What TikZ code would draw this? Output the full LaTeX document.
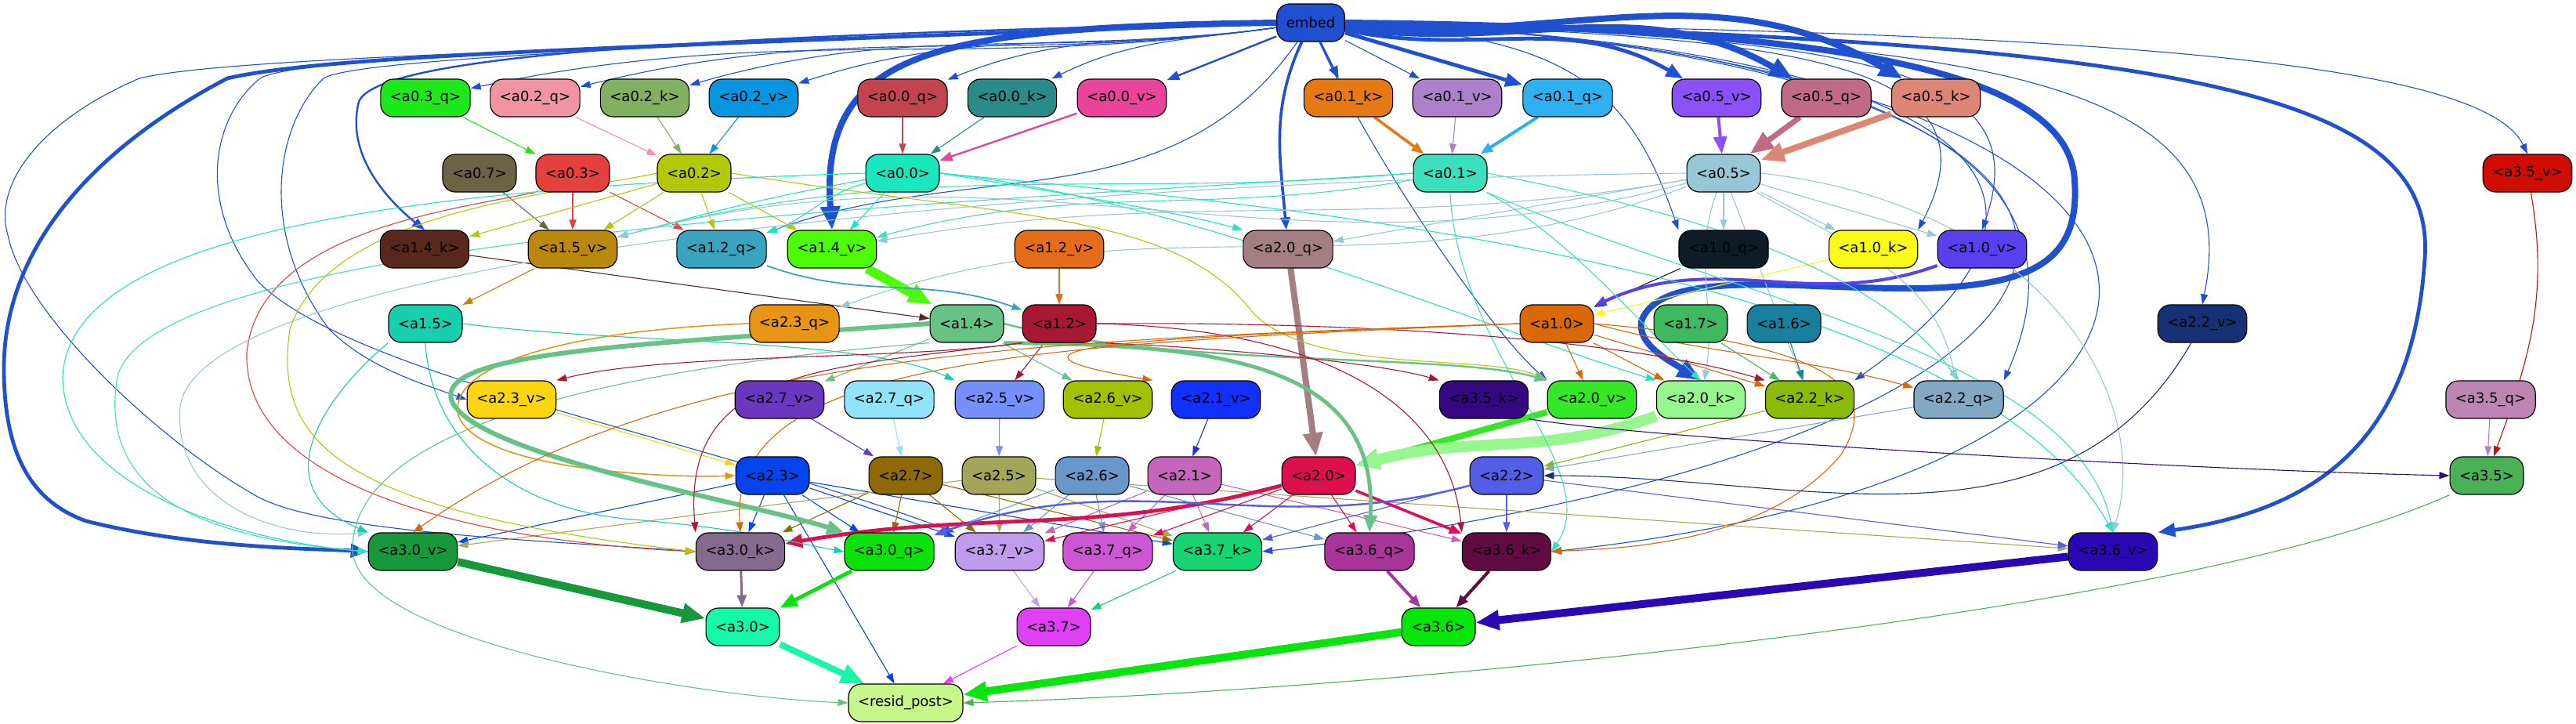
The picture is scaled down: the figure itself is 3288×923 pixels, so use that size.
\documentclass[tikz,border=0pt]{standalone}
\usepackage{fontspec}
\setmainfont{DejaVu Sans}
\usepackage{tikz}
\usetikzlibrary{arrows.meta}
\pgfdeclarelayer{bg}
\pgfsetlayers{bg,main}
% node colours
\definecolor{cembed}{HTML}{1E50D0}
\definecolor{ca03q}{HTML}{1FE81A}
\definecolor{ca02q}{HTML}{EF94A0}
\definecolor{ca02k}{HTML}{80B060}
\definecolor{ca02v}{HTML}{0895DF}
\definecolor{ca00q}{HTML}{C2444F}
\definecolor{ca00k}{HTML}{2A8B88}
\definecolor{ca00v}{HTML}{E9439B}
\definecolor{ca01k}{HTML}{E57A14}
\definecolor{ca01v}{HTML}{AE80CC}
\definecolor{ca01q}{HTML}{2FB0F0}
\definecolor{ca05v}{HTML}{8C50F8}
\definecolor{ca05q}{HTML}{C16A87}
\definecolor{ca05k}{HTML}{DE8675}
\definecolor{ca07}{HTML}{6C6244}
\definecolor{ca03}{HTML}{E4403E}
\definecolor{ca02}{HTML}{B3C705}
\definecolor{ca00}{HTML}{19E8BE}
\definecolor{ca01}{HTML}{3ADFBE}
\definecolor{ca05}{HTML}{96C7D6}
\definecolor{ca35v}{HTML}{CE0C01}
\definecolor{ca14k}{HTML}{58281D}
\definecolor{ca15v}{HTML}{BA880D}
\definecolor{ca12q}{HTML}{3AA4C0}
\definecolor{ca14v}{HTML}{4CFB04}
\definecolor{ca12v}{HTML}{E56D19}
\definecolor{ca20q}{HTML}{A57E84}
\definecolor{ca10q}{HTML}{0D1C26}
\definecolor{ca10k}{HTML}{FAFA17}
\definecolor{ca10v}{HTML}{5A3FEE}
\definecolor{ca15}{HTML}{16CFAC}
\definecolor{ca23q}{HTML}{E89515}
\definecolor{ca14}{HTML}{66C285}
\definecolor{ca12}{HTML}{A81834}
\definecolor{ca10}{HTML}{D96805}
\definecolor{ca17}{HTML}{3EB960}
\definecolor{ca16}{HTML}{187F9E}
\definecolor{ca22v}{HTML}{173274}
\definecolor{ca23v}{HTML}{FBD50F}
\definecolor{ca27v}{HTML}{6A37BE}
\definecolor{ca27q}{HTML}{90E3F9}
\definecolor{ca25v}{HTML}{7690FA}
\definecolor{ca26v}{HTML}{A2C103}
\definecolor{ca21v}{HTML}{1130FA}
\definecolor{ca35k}{HTML}{330880}
\definecolor{ca20v}{HTML}{35E725}
\definecolor{ca20k}{HTML}{98F68F}
\definecolor{ca22k}{HTML}{8ABB08}
\definecolor{ca22q}{HTML}{82A8C3}
\definecolor{ca35q}{HTML}{BE84B4}
\definecolor{ca23}{HTML}{0444EC}
\definecolor{ca27}{HTML}{8E6905}
\definecolor{ca25}{HTML}{A5A55A}
\definecolor{ca26}{HTML}{6898CA}
\definecolor{ca21}{HTML}{C566BD}
\definecolor{ca20}{HTML}{DC0F4F}
\definecolor{ca22}{HTML}{535EE6}
\definecolor{ca35}{HTML}{4AB157}
\definecolor{ca30v}{HTML}{17983B}
\definecolor{ca30k}{HTML}{846B8E}
\definecolor{ca30q}{HTML}{0BE10B}
\definecolor{ca37v}{HTML}{C09BEE}
\definecolor{ca37q}{HTML}{CC57D2}
\definecolor{ca37k}{HTML}{16D472}
\definecolor{ca36q}{HTML}{A83698}
\definecolor{ca36k}{HTML}{610B42}
\definecolor{ca36v}{HTML}{2A09B4}
\definecolor{ca30}{HTML}{15F8A8}
\definecolor{ca37}{HTML}{E040F5}
\definecolor{ca36}{HTML}{06E60A}
\definecolor{cresid}{HTML}{C5F78A}

\begin{document}
\begin{tikzpicture}[x=0.5pt,y=-0.5pt,font=\fontsize{9}{11}\selectfont,
  nd/.style={draw=black,line width=0.6pt,rounded corners=8pt,minimum height=24pt,inner xsep=6pt,inner ysep=1pt},
  ed/.style={-{Triangle[length=6.5pt,width=4.5pt]},line width=0.55pt},
  edm/.style={-{Triangle[length=8pt,width=6pt]},line width=1.2pt},
  edt/.style={-{Triangle[length=11pt,width=8.5pt]},line width=2.4pt},
  edx/.style={-{Triangle[length=15pt,width=12pt]},line width=4pt}]
  \useasboundingbox (0,0) rectangle (3288,923);

  % rank 0 and 1
  \node[nd,fill=cembed] (embed) at (1673,29) {embed};
  \node[nd,fill=ca03q] (a03q) at (543,125) {<a0.3\_q>};
  \node[nd,fill=ca02q] (a02q) at (683,125) {<a0.2\_q>};
  \node[nd,fill=ca02k] (a02k) at (823,125) {<a0.2\_k>};
  \node[nd,fill=ca02v] (a02v) at (962,125) {<a0.2\_v>};
  \node[nd,fill=ca00q] (a00q) at (1152,125) {<a0.0\_q>};
  \node[nd,fill=ca00k] (a00k) at (1292,125) {<a0.0\_k>};
  \node[nd,fill=ca00v] (a00v) at (1432,125) {<a0.0\_v>};
  \node[nd,fill=ca01k] (a01k) at (1721,125) {<a0.1\_k>};
  \node[nd,fill=ca01v] (a01v) at (1860,125) {<a0.1\_v>};
  \node[nd,fill=ca01q] (a01q) at (2001,125) {<a0.1\_q>};
  \node[nd,fill=ca05v] (a05v) at (2191,125) {<a0.5\_v>};
  \node[nd,fill=ca05q] (a05q) at (2331,125) {<a0.5\_q>};
  \node[nd,fill=ca05k] (a05k) at (2471,125) {<a0.5\_k>};
  % rank 2
  \node[nd,fill=ca07] (a07) at (612,221) {<a0.7>};
  \node[nd,fill=ca03] (a03) at (731,221) {<a0.3>};
  \node[nd,fill=ca02] (a02) at (886,221) {<a0.2>};
  \node[nd,fill=ca00] (a00) at (1152,221) {<a0.0>};
  \node[nd,fill=ca01] (a01) at (1851,221) {<a0.1>};
  \node[nd,fill=ca05] (a05) at (2200,221) {<a0.5>};
  \node[nd,fill=ca35v] (a35v) at (3226,221) {<a3.5\_v>};
  % rank 3
  \node[nd,fill=ca14k] (a14k) at (542,318) {<a1.4\_k>};
  \node[nd,fill=ca15v] (a15v) at (731,318) {<a1.5\_v>};
  \node[nd,fill=ca12q] (a12q) at (921,318) {<a1.2\_q>};
  \node[nd,fill=ca14v] (a14v) at (1062,318) {<a1.4\_v>};
  \node[nd,fill=ca12v] (a12v) at (1352,318) {<a1.2\_v>};
  \node[nd,fill=ca20q] (a20q) at (1644,318) {<a2.0\_q>};
  \node[nd,fill=ca10q] (a10q) at (2200,318) {<a1.0\_q>};
  \node[nd,fill=ca10k] (a10k) at (2391,318) {<a1.0\_k>};
  \node[nd,fill=ca10v] (a10v) at (2530,318) {<a1.0\_v>};
  % rank 4
  \node[nd,fill=ca15] (a15) at (543,413) {<a1.5>};
  \node[nd,fill=ca23q] (a23q) at (1014,413) {<a2.3\_q>};
  \node[nd,fill=ca14] (a14) at (1234,413) {<a1.4>};
  \node[nd,fill=ca12] (a12) at (1352,413) {<a1.2>};
  \node[nd,fill=ca10] (a10) at (1987,413) {<a1.0>};
  \node[nd,fill=ca17] (a17) at (2158,413) {<a1.7>};
  \node[nd,fill=ca16] (a16) at (2277,413) {<a1.6>};
  \node[nd,fill=ca22v] (a22v) at (2811,413) {<a2.2\_v>};
  % rank 5
  \node[nd,fill=ca23v] (a23v) at (653,510) {<a2.3\_v>};
  \node[nd,fill=ca27v] (a27v) at (995,510) {<a2.7\_v>};
  \node[nd,fill=ca27q] (a27q) at (1135,510) {<a2.7\_q>};
  \node[nd,fill=ca25v] (a25v) at (1276,510) {<a2.5\_v>};
  \node[nd,fill=ca26v] (a26v) at (1414,510) {<a2.6\_v>};
  \node[nd,fill=ca21v] (a21v) at (1552,510) {<a2.1\_v>};
  \node[nd,fill=ca35k] (a35k) at (1894,510) {<a3.5\_k>};
  \node[nd,fill=ca20v] (a20v) at (2032,510) {<a2.0\_v>};
  \node[nd,fill=ca20k] (a20k) at (2171,510) {<a2.0\_k>};
  \node[nd,fill=ca22k] (a22k) at (2310,510) {<a2.2\_k>};
  \node[nd,fill=ca22q] (a22q) at (2500,510) {<a2.2\_q>};
  \node[nd,fill=ca35q] (a35q) at (3179,510) {<a3.5\_q>};
  % rank 6
  \node[nd,fill=ca23] (a23) at (986,607) {<a2.3>};
  \node[nd,fill=ca27] (a27) at (1156,607) {<a2.7>};
  \node[nd,fill=ca25] (a25) at (1275,607) {<a2.5>};
  \node[nd,fill=ca26] (a26) at (1394,607) {<a2.6>};
  \node[nd,fill=ca21] (a21) at (1512,607) {<a2.1>};
  \node[nd,fill=ca20] (a20) at (1683,607) {<a2.0>};
  \node[nd,fill=ca22] (a22) at (1923,607) {<a2.2>};
  \node[nd,fill=ca35] (a35) at (3174,607) {<a3.5>};
  % rank 7
  \node[nd,fill=ca30v] (a30v) at (527,704) {<a3.0\_v>};
  \node[nd,fill=ca30k] (a30k) at (945,704) {<a3.0\_k>};
  \node[nd,fill=ca30q] (a30q) at (1135,704) {<a3.0\_q>};
  \node[nd,fill=ca37v] (a37v) at (1276,704) {<a3.7\_v>};
  \node[nd,fill=ca37q] (a37q) at (1414,704) {<a3.7\_q>};
  \node[nd,fill=ca37k] (a37k) at (1554,704) {<a3.7\_k>};
  \node[nd,fill=ca36q] (a36q) at (1748,704) {<a3.6\_q>};
  \node[nd,fill=ca36k] (a36k) at (1923,704) {<a3.6\_k>};
  \node[nd,fill=ca36v] (a36v) at (2697,704) {<a3.6\_v>};
  % rank 8 and 9
  \node[nd,fill=ca30] (a30) at (948,800) {<a3.0>};
  \node[nd,fill=ca37] (a37) at (1345,800) {<a3.7>};
  \node[nd,fill=ca36] (a36) at (1836,800) {<a3.6>};
  \node[nd,fill=cresid] (resid) at (1156,897) {<resid\_post>};

  \begin{pgfonlayer}{bg}
  % embed
  \foreach \t/\i in {a03q/12,a02q/14,a02k/16,a02v/18,a00q/22,a00k/26}
    \draw[ed,cembed] (embed) to[out=188,in=\i] (\t);
  \draw[edm,cembed] (embed) -- (a00v);
  \draw[edm,cembed] (embed) -- (a01k);
  \draw[ed,cembed] (embed) -- (a01v);
  \draw[edt,cembed] (embed) -- (a01q);
  \draw[edt,cembed] (embed) to[out=-12,in=150] (a05v);
  \draw[edx,cembed] (embed) to[out=-8,in=150] (a05q);
  \draw[edx,cembed] (embed) to[out=-5,in=150] (a05k);
  \draw[edm,cembed] (embed.west) .. controls (900,45) and (480,70) .. (458,130)
    .. controls (440,200) and (500,260) .. (a14k.north);
  \draw[edx,cembed] (embed.west) .. controls (1200,35) and (1045,60) .. (a14v.north);
  \draw[edm,cembed,line width=1.8pt] (embed) to[out=245,in=95] (a20q);
  \draw[ed,cembed] (embed) to[out=235,in=20] (a12q);
  \draw[edx,cembed] (embed.east) .. controls (2300,35) and (2640,80) .. (2648,230)
    .. controls (2655,330) and (2600,365) .. (2450,368) .. controls (2300,370) and (2120,340) .. (2095,410)
    .. controls (2090,440) and (2130,460) .. (a20k.north);
  \draw[ed,cembed] (embed) .. controls (2000,45) and (2080,110) .. (a10q.north west);
  \draw[ed,cembed] (embed) .. controls (2300,45) and (2560,80) .. (a10k.north east);
  \draw[ed,cembed] (embed) .. controls (2400,45) and (2600,90) .. (a10v.north);
  \draw[ed,cembed] (embed) .. controls (2550,50) and (2870,100) .. (a22v.north);
  \draw[ed,cembed] (embed) .. controls (2700,40) and (3170,80) .. (a35v.north);
  \draw[edt,cembed] (embed.east) .. controls (2800,50) and (3110,120) .. (3095,330)
    .. controls (3080,560) and (2960,650) .. (a36v.north east);
  \draw[ed,cembed] (embed.east) .. controls (2550,60) and (2700,250) .. (a22k.north east);
  \draw[ed,cembed] (embed.east) .. controls (2600,60) and (2640,300) .. (a22q.north east);
  \draw[ed,cembed] (embed.east) .. controls (2950,70) and (2950,600) .. (a36k.east);
  \draw[ed,cembed] (embed.east) .. controls (2900,70) and (2850,560) .. (a37k.east);
  \draw[ed,cembed] (embed) .. controls (1750,200) and (1900,420) .. (a20v.north west);
  \draw[edt,cembed] (embed.west) .. controls (800,60) and (420,70) .. (290,100)
    .. controls (100,200) and (5,330) .. (5,470) .. controls (5,580) and (40,640) .. (110,665)
    .. controls (250,700) and (400,700) .. (a30v.west);
  \draw[ed,cembed] (embed.west) .. controls (900,60) and (300,70) .. (178,100)
    .. controls (60,150) and (-10,230) .. (10,300) .. controls (30,400) and (200,560) .. (322,630)
    .. controls (400,680) and (700,690) .. (a30k.west);
  \draw[ed,cembed] (embed.west) .. controls (900,55) and (380,70) .. (332,100)
    .. controls (270,150) and (250,260) .. (330,360) .. controls (450,480) and (900,560) .. (a37v.north west);
  \draw[ed,cembed] (embed.west) .. controls (900,55) and (450,75) .. (413,100)
    .. controls (350,160) and (330,300) .. (420,420) .. controls (470,470) and (540,490) .. (a23v.west);

  % straight thin edges
  \foreach \s/\t in {a03q/a03,a02q/a02,a02k/a02,a02v/a02,a00q/a00,a00k/a00,a01v/a01,a35q/a35,
      a07/a15v,a03/a15v,a03/a12q,a02/a15v,a02/a12q,a02/a14v,a02/a14k,a00/a14v,
      a05/a10q,a05/a10k,a05/a10v,a05/a20q,a05/a22k,a14k/a14,a15v/a15,a12v/a12,a10q/a10,a10k/a10,
      a12/a25v,a14/a27v,a14/a26v,a17/a22k,a16/a22k,a10/a20v,a10/a20k,a10/a22k,
      a23v/a23,a27v/a27,a27q/a27,a25v/a25,a26v/a26,a21v/a21,a22k/a22,a22q/a22,
      a23/a30v,a23/a30k,a23/a30q,a23/a37v,a23/a37k,a23/resid,
      a27/a30k,a27/a30q,a27/a37v,a27/a37k,
      a25/a30v,a25/a37v,a25/a37k,a25/a36v,
      a26/a37v,a26/a37q,a26/a36q,a26/a30q,
      a21/a37v,a21/a37q,a21/a37k,a21/a36k,
      a20/a37v,a20/a37q,a20/a37k,a20/a36q,
      a22/a37k,a22/a36k,a22/a36v,
      a37v/a37,a37q/a37,a37k/a37,a37/resid}
    \draw[ed,c\s] (\s) -- (\t);

  % thicker edges
  \draw[edm,ca00v] (a00v) -- (a00);
  \draw[edm,ca01k,line width=1.8pt] (a01k) -- (a01);
  \draw[edm,ca01q,line width=2pt] (a01q) -- (a01);
  \draw[edt,ca05v,line width=2pt] (a05v) -- (a05);
  \draw[edx,ca05q,line width=3.5pt] (a05q) -- (a05);
  \draw[edx,ca05k] (a05k) -- (a05);
  \draw[edx,ca14v,line width=6pt] (a14v) -- (a14);
  \draw[edx,ca20q] (a20q) -- (a20);
  \draw[edm,ca10v,line width=2pt] (a10v) to[out=200,in=25] (a10);
  \draw[edx,ca20v] (a20v) -- (a20);
  \draw[edx,ca20k,line width=7pt] (a20k) to[out=200,in=15] (a20);
  \draw[edt,ca20] (a20) to[out=195,in=10] (a30k);
  \draw[edm,ca20,line width=1.8pt] (a20) -- (a36k);
  \draw[edm,ca22] (a22) to[out=195,in=20] (a30q);
  \draw[edx,ca30v,line width=5pt] (a30v) -- (a30);
  \draw[edm,ca30k,line width=1.5pt] (a30k) -- (a30);
  \draw[edt,ca30q] (a30q) -- (a30);
  \draw[edm,ca36q,line width=2pt] (a36q) -- (a36);
  \draw[edm,ca36k,line width=2pt] (a36k) -- (a36);
  \draw[edx,ca36v,line width=5pt] (a36v) -- (a36);
  \draw[edx,ca30,line width=4pt] (a30) -- (resid);
  \draw[edx,ca36,line width=5pt] (a36) -- (resid);

  % curved thin edges
  \draw[ed,ca03] (a03.south west) .. controls (560,270) and (330,300) .. (315,450)
    .. controls (310,620) and (600,690) .. (a30k.west);
  \draw[ed,ca02] (a02.west) .. controls (700,250) and (420,270) .. (370,420)
    .. controls (350,560) and (420,650) .. (a30k.west);
  \draw[ed,ca02] (a02.east) .. controls (1300,280) and (1500,270) .. (1600,400)
    .. controls (1680,480) and (1900,450) .. (a20v.north west);
  \draw[ed,ca00] (a00) to[out=190,in=15] (a15v);
  \draw[ed,ca00] (a00) to[out=195,in=20] (a12q);
  \draw[ed,ca00] (a00.east) .. controls (1350,245) and (1500,270) .. (a20q.north west);
  \draw[ed,ca00] (a00.west) .. controls (500,240) and (90,300) .. (80,480)
    .. controls (80,620) and (300,690) .. (a30v.west);
  \draw[ed,ca00] (a00.east) .. controls (1600,260) and (2500,330) .. (a36v.north);
  \draw[ed,ca00] (a00.east) .. controls (1500,250) and (1900,420) .. (a20k.north west);
  \draw[ed,ca01] (a01.west) to[out=185,in=15] (a15v);
  \draw[ed,ca01] (a01) to[out=190,in=15] (a14v);
  \draw[ed,ca01] (a01) .. controls (2000,300) and (2100,420) .. (a20k.north);
  \draw[ed,ca01] (a01.east) .. controls (2200,280) and (2400,350) .. (a22q.north);
  \draw[ed,ca01] (a01.south east) .. controls (2200,380) and (2650,450) .. (a36v.north);
  \draw[ed,ca01] (a01.west) .. controls (1200,260) and (200,300) .. (150,480)
    .. controls (120,650) and (300,690) .. (a30v.west);
  \draw[ed,ca01] (a01.south) .. controls (1860,450) and (2050,600) .. (a36k.east);
  \draw[ed,ca05] (a05) to[out=190,in=10] (a14v);
  \draw[ed,ca05] (a05) to[out=200,in=20] (a23q);
  \draw[ed,ca05] (a05) to[out=195,in=15] (a15v);
  \draw[ed,ca05] (a05) to[out=-30,in=100] (a22q);
  \draw[ed,ca05] (a05.east) .. controls (2600,260) and (2750,500) .. (a36v.north);
  \draw[ed,ca05] (a05.west) .. controls (1300,230) and (250,330) .. (230,520)
    .. controls (220,640) and (350,690) .. (a30v.north west);
  \draw[ed,ca05] (a05) to[out=250,in=80] (a20k);
  \draw[ed,ca12q,line width=0.9pt] (a12q) to[out=-20,in=160] (a12);
  \draw[ed,ca12v] (a12v) -- (a12);
  \draw[ed,ca15] (a15.south west) .. controls (420,500) and (330,620) .. (a30v.north west);
  \draw[ed,ca15] (a15.south) .. controls (550,560) and (650,650) .. (808,663)
    .. controls (950,675) and (1000,690) .. (a30q.west);
  \draw[ed,ca15] (a15.east) .. controls (800,440) and (1100,430) .. (a25v.north west);
  \draw[ed,ca14] (a14.south west) .. controls (900,460) and (450,520) .. (450,700)
    .. controls (450,820) and (900,890) .. (resid.west);
  \draw[ed,ca23q,line width=0.8pt] (a23q.west) .. controls (750,420) and (570,460) .. (585,530)
    .. controls (610,600) and (850,610) .. (a23.west);
  \draw[edt,ca14,line width=3pt] (a14.west) .. controls (800,440) and (560,450) .. (576,510)
    .. controls (600,580) and (950,640) .. (a30q.north west);
  \draw[edt,ca14] (a14.south east) .. controls (1550,440) and (1760,460) .. (a36q.north);
  \draw[edm,ca14] (a14.east) .. controls (1500,470) and (1850,450) .. (a20v.north west);
  \draw[ed,ca12] (a12.south west) .. controls (1150,460) and (850,450) .. (a23v.north east);
  \draw[ed,ca12] (a12.south east) .. controls (1500,440) and (1750,460) .. (a35k.north west);
  \draw[ed,ca12] (a12.south west) .. controls (1050,470) and (870,470) .. (a30k.north west);
  \draw[ed,ca12] (a12.east) .. controls (1700,420) and (1850,520) .. (a36k.north west);
  \draw[ed,ca12] (a12.east) .. controls (1800,410) and (2100,440) .. (a22k.north west);
  \draw[ed,ca10] (a10.west) .. controls (1500,430) and (1200,440) .. (a26v.north east);
  \draw[ed,ca10] (a10.west) .. controls (1300,435) and (850,450) .. (a30v.north);
  \draw[ed,ca10] (a10.west) .. controls (1300,440) and (930,460) .. (a30k.north);
  \draw[ed,ca10] (a10.east) to[out=-15,in=165] (a22q);
  \draw[ed,ca10] (a10.east) .. controls (2350,440) and (2400,500) .. (2350,580)
    .. controls (2250,700) and (2050,700) .. (a36k.east);
  \draw[ed,ca22v] (a22v) to[out=240,in=0] (a22);
  \draw[ed,ca35k] (a35k.south east) .. controls (2100,560) and (2800,600) .. (a35.west);
  \draw[ed,ca35v] (a35v) to[out=-80,in=70] (a35);
  \draw[ed,ca35] (a35.south west) .. controls (2800,780) and (1800,880) .. (resid.east);
  \end{pgfonlayer}
\end{tikzpicture}
\end{document}
